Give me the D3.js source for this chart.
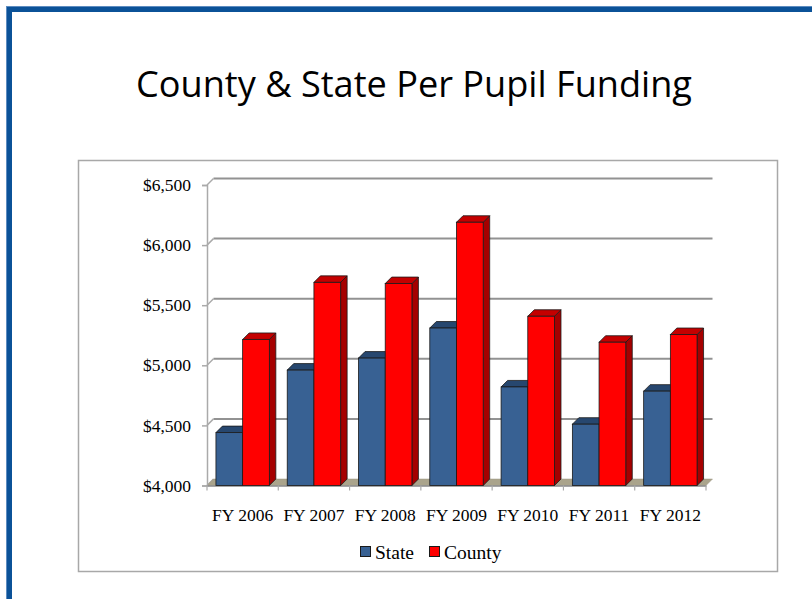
<!DOCTYPE html>
<html>
<head>
<meta charset="utf-8">
<script src="https://cdn.jsdelivr.net/npm/d3@7"></script>
<style>
  html, body { margin: 0; padding: 0; background: #fff; }
  svg { display: block; }
</style>
</head>
<body>
<svg id="chart" width="812" height="599"></svg>
<script>
// Per pupil funding, in dollars
const years = ["FY 2006", "FY 2007", "FY 2008", "FY 2009", "FY 2010", "FY 2011", "FY 2012"];
const stateValues = [4440, 4960, 5060, 5310, 4820, 4510, 4785];
const countyValues = [5215, 5690, 5680, 6190, 5408, 5192, 5256];
const seriesNames = ["State", "County"];
const yTicks = [4000, 4500, 5000, 5500, 6000, 6500];

const svg = d3.select("#chart");

// Slide frame: blue rule along the top and left
svg.append("rect").attr("x", 6).attr("y", 6).attr("width", 806).attr("height", 6).attr("fill", "#0b5298");
svg.append("rect").attr("x", 6).attr("y", 6).attr("width", 6).attr("height", 593).attr("fill", "#0b5298");
svg.append("rect").attr("x", 6).attr("y", 6).attr("width", 806).attr("height", 1).attr("fill", "#5d8cc0");
svg.append("rect").attr("x", 6).attr("y", 6).attr("width", 1).attr("height", 593).attr("fill", "#5d8cc0");

// Title, fitted to its width
const title = svg.append("text")
  .attr("x", 414).attr("y", 97)
  .attr("text-anchor", "middle")
  .attr("font-family", "'Open Sans', 'Noto Sans', sans-serif")
  .attr("font-size", 32)
  .attr("fill", "#000")
  .text("County & State Per Pupil Funding");
const tw = title.node().getComputedTextLength();
title.attr("font-size", 32 * 556 / tw);

// Chart box
svg.append("rect")
  .attr("x", 78.5).attr("y", 160.5).attr("width", 699).attr("height", 411)
  .attr("fill", "#fff").attr("stroke", "#a8a8a8").attr("stroke-width", 1.5);

const depth = 6.5;
const x0 = 207, x1 = 706;
const y = d3.scaleLinear().domain([4000, 6500]).range([485.5, 185]);
const xBand = d3.scaleBand().domain(years).range([x0, x1]).paddingInner(0).paddingOuter(0);
const xInner = d3.scaleBand().domain(seriesNames).range([0, xBand.bandwidth()]).paddingInner(0).paddingOuter(0.335);

const g = svg.append("g");

// Back wall gridlines
g.selectAll("line.grid").data(yTicks.slice(1)).join("line")
  .attr("class", "grid")
  .attr("x1", x0 + depth).attr("x2", x1 + depth)
  .attr("y1", d => y(d) - depth).attr("y2", d => y(d) - depth)
  .attr("stroke", "#929292").attr("stroke-width", 2);

// Side wall diagonals for each gridline
g.selectAll("line.diag").data(yTicks).join("line")
  .attr("x1", x0).attr("x2", x0 + depth)
  .attr("y1", d => y(d)).attr("y2", d => y(d) - depth)
  .attr("stroke", "#aaa").attr("stroke-width", 1.5);

// Floor
g.append("path")
  .attr("d", `M${x0},${y(4000)} L${x1},${y(4000)} L${x1 + depth},${y(4000) - depth} L${x0 + depth},${y(4000) - depth} Z`)
  .attr("fill", "#aaa48c").attr("stroke", "#9a9480").attr("stroke-width", 0.5);

// Y axis
const yAxis = d3.axisLeft(y).tickValues(yTicks).tickSize(5).tickPadding(11)
  .tickFormat(d => "$" + d3.format(",")(d));
const ya = g.append("g").attr("transform", `translate(${x0},0)`).call(yAxis);
ya.select(".domain").attr("stroke", "#aaa").attr("stroke-width", 1.5);
ya.selectAll(".tick line").attr("stroke", "#aaa").attr("stroke-width", 1.5);
ya.selectAll(".tick text")
  .attr("font-family", "'Liberation Serif', 'Times New Roman', serif")
  .attr("font-size", 17.5).attr("fill", "#000");

// X axis
const xAxis = d3.axisBottom(xBand).tickSize(0).tickPadding(23);
const xa = g.append("g").attr("transform", `translate(0,${y(4000)})`).call(xAxis);
xa.select(".domain").attr("stroke", "#888").attr("stroke-width", 1.5);
xa.selectAll(".tick text")
  .attr("font-family", "'Liberation Serif', 'Times New Roman', serif")
  .attr("font-size", 17.5).attr("fill", "#000");
// Category boundary ticks
g.selectAll("line.xtick").data(d3.range(years.length + 1)).join("line")
  .attr("x1", i => x0 + i * xBand.bandwidth()).attr("x2", i => x0 + i * xBand.bandwidth())
  .attr("y1", y(4000)).attr("y2", y(4000) + 5)
  .attr("stroke", "#aaa").attr("stroke-width", 1.2);

// 3D bars
const colors = {
  State: { front: "#386193", top: "#27476f", side: "#223f63" },
  County: { front: "#ff0000", top: "#c40000", side: "#a50000" }
};
const rows = years.map((yr, i) => ({ yr, State: stateValues[i], County: countyValues[i] }));

const cat = g.selectAll("g.cat").data(rows).join("g").attr("class", "cat");
seriesNames.forEach(s => {
  cat.each(function(d) {
    const gx = d3.select(this);
    const bx = xBand(d.yr) + xInner(s);
    const bw = xInner.bandwidth();
    const top = y(d[s]);
    const base = y(4000);
    const c = colors[s];
    // side face
    gx.append("path")
      .attr("d", `M${bx + bw},${base} L${bx + bw},${top} L${bx + bw + depth},${top - depth} L${bx + bw + depth},${base - depth} Z`)
      .attr("fill", c.side).attr("stroke", "#1a1a1a").attr("stroke-width", 0.8).attr("stroke-linejoin", "round");
    // top face
    gx.append("path")
      .attr("d", `M${bx},${top} L${bx + bw},${top} L${bx + bw + depth},${top - depth} L${bx + depth},${top - depth} Z`)
      .attr("fill", c.top).attr("stroke", "#1a1a1a").attr("stroke-width", 0.8).attr("stroke-linejoin", "round");
    // front face
    gx.append("rect")
      .attr("x", bx).attr("y", top).attr("width", bw).attr("height", base - top)
      .attr("fill", c.front).attr("stroke", "#1a1a1a").attr("stroke-width", 0.8);
  });
});

// Legend
const legend = svg.append("g").attr("transform", "translate(0,553)");
const legendItems = [
  { name: "State", x: 360, color: colors.State.front },
  { name: "County", x: 429, color: colors.County.front }
];
legendItems.forEach(it => {
  legend.append("rect").attr("x", it.x + 0.5).attr("y", -6.5).attr("width", 10).attr("height", 10)
    .attr("fill", it.color).attr("stroke", "#1a1a1a").attr("stroke-width", 1);
  legend.append("text").attr("x", it.x + 15).attr("y", 6)
    .attr("font-family", "'Liberation Serif', 'Times New Roman', serif")
    .attr("font-size", 19.5).attr("fill", "#000").text(it.name);
});
</script>
</body>
</html>
